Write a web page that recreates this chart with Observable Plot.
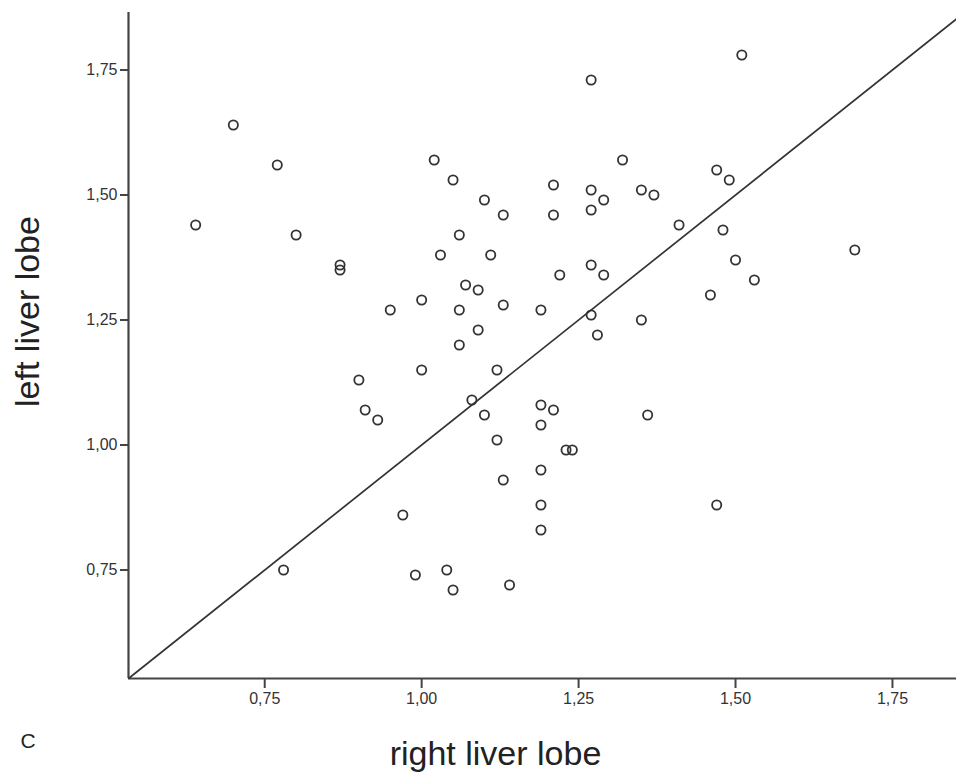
<!DOCTYPE html>
<html>
<head>
<meta charset="utf-8">
<script src="https://cdn.jsdelivr.net/npm/d3@7"></script>
<script src="https://cdn.jsdelivr.net/npm/@observablehq/plot@0.6"></script>
<style>
  html, body { margin: 0; padding: 0; background: #fff; }
  #chart svg { display: block; }
</style>
</head>
<body>
<div id="chart"></div>
<script>
// right liver lobe (x) and left liver lobe (y), one entry per subject
const rightLobe = [0.64, 0.70, 0.77, 0.80, 0.78, 0.87, 0.87, 0.90, 0.91, 0.93,
  0.95, 0.97, 0.99, 1.00, 1.00, 1.02, 1.03, 1.04, 1.05, 1.05,
  1.06, 1.06, 1.06, 1.07, 1.08, 1.09, 1.09, 1.10, 1.10, 1.11,
  1.12, 1.12, 1.13, 1.13, 1.13, 1.14, 1.19, 1.19, 1.19, 1.19,
  1.19, 1.19, 1.21, 1.21, 1.21, 1.22, 1.23, 1.24, 1.27, 1.27,
  1.27, 1.27, 1.27, 1.28, 1.29, 1.29, 1.32, 1.35, 1.35, 1.36,
  1.37, 1.41, 1.46, 1.47, 1.47, 1.48, 1.49, 1.50, 1.51, 1.53, 1.69];
const leftLobe = [1.44, 1.64, 1.56, 1.42, 0.75, 1.36, 1.35, 1.13, 1.07, 1.05,
  1.27, 0.86, 0.74, 1.29, 1.15, 1.57, 1.38, 0.75, 1.53, 0.71,
  1.42, 1.27, 1.20, 1.32, 1.09, 1.31, 1.23, 1.49, 1.06, 1.38,
  1.15, 1.01, 1.46, 1.28, 0.93, 0.72, 1.27, 1.08, 1.04, 0.95,
  0.88, 0.83, 1.52, 1.46, 1.07, 1.34, 0.99, 0.99, 1.73, 1.51,
  1.47, 1.36, 1.26, 1.22, 1.49, 1.34, 1.57, 1.51, 1.25, 1.06,
  1.50, 1.44, 1.30, 1.55, 0.88, 1.43, 1.53, 1.37, 1.78, 1.33, 1.39];

const xTicks = [0.75, 1.00, 1.25, 1.50, 1.75];
const yTicks = [0.75, 1.00, 1.25, 1.50, 1.75];
const xDomain = [0.533, 1.852];
const yDomain = [0.533, 1.865];
const xTitle = "right liver lobe";
const yTitle = "left liver lobe";
const panelLabel = "C";

const data = rightLobe.map((r, i) => ({ r, l: leftLobe[i] }));
const fmt = d => d.toFixed(2).replace(".", ",");
const lo = Math.max(xDomain[0], yDomain[0]);
const hi = Math.min(xDomain[1], yDomain[1]);

const chart = Plot.plot({
  width: 956,
  height: 777,
  marginLeft: 128,
  marginTop: 12,
  marginRight: 0,
  marginBottom: 99,
  x: { domain: xDomain },
  y: { domain: yDomain },
  style: { fontFamily: "'Liberation Sans', Arial, sans-serif", color: "#333", background: "#fff" },
  marks: [
    Plot.axisX({ ticks: xTicks, tickFormat: fmt, tickSize: 10, tickPadding: 4, fontSize: 16, label: null, stroke: "#444", strokeWidth: 2 }),
    Plot.axisY({ ticks: yTicks, tickFormat: fmt, tickSize: 8, tickPadding: 3, fontSize: 16, label: null, stroke: "#444", strokeWidth: 2 }),
    Plot.ruleX([xDomain[0]], { stroke: "#444", strokeWidth: 2.2 }),
    Plot.ruleY([yDomain[0]], { stroke: "#444", strokeWidth: 2.2 }),
    Plot.link([0], { x1: () => lo, y1: () => lo, x2: () => hi, y2: () => hi, stroke: "#333", strokeWidth: 1.7 }),
    Plot.dot(data, { x: "r", y: "l", r: 4.6, stroke: "#333", strokeWidth: 1.8, fill: "none" }),
    Plot.text([xTitle], { text: d => d, frameAnchor: "bottom-left", textAnchor: "middle", lineAnchor: "bottom", dx: 367, dy: 86, fontSize: 34, fill: "#222" }),
    Plot.text([yTitle], { text: d => d, frameAnchor: "left", textAnchor: "middle", lineAnchor: "bottom", rotate: -90, dx: -90, dy: -34, fontSize: 34, fill: "#222" }),
    Plot.text([panelLabel], { text: d => d, frameAnchor: "bottom-left", textAnchor: "start", lineAnchor: "bottom", dx: -108, dy: 69, fontSize: 21, fill: "#222" })
  ]
});
document.getElementById("chart").appendChild(chart);
</script>
</body>
</html>
